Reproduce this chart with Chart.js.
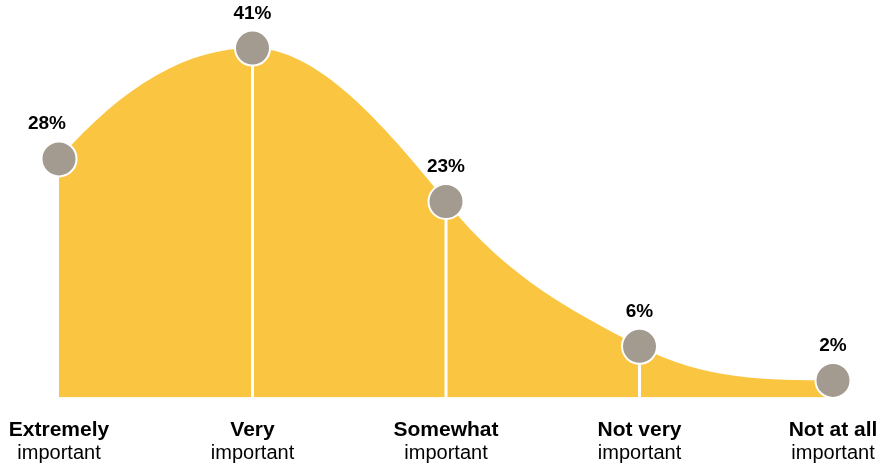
<!DOCTYPE html>
<html>
<head>
<meta charset="utf-8">
<script src="https://cdn.jsdelivr.net/npm/chart.js@4/dist/chart.umd.min.js"></script>
<style>
  html, body { margin: 0; padding: 0; background: #fff; }
  #wrap { width: 878px; height: 466px; }
</style>
</head>
<body>
<div id="wrap"><canvas id="c" width="878" height="466"></canvas></div>
<script>
// Importance ratings, share of respondents (%)
const categoriesTop = ['Extremely', 'Very', 'Somewhat', 'Not very', 'Not at all'];
const categoriesBottom = ['important', 'important', 'important', 'important', 'important'];
const shares = [28, 41, 23, 6, 2];
const valueLabels = ['28%', '41%', '23%', '6%', '2%'];

const FONT = '"Liberation Sans", Arial, Helvetica, sans-serif';
const TANGENT_SCALE = 1.6; // cardinal spline with negative tension (fuller bell shape)

// Smooth curve: cardinal-style tangents, parabolic end conditions,
// flattened at turning points and limited to stay monotone between points.
const bellCurve = {
  id: 'bellCurve',
  afterDatasetUpdate(chart, args) {
    const meta = args.meta;
    const line = meta.dataset;
    const pts = meta.data;
    const n = pts.length;
    if (!line || n < 3) return;
    line.updateControlPoints(chart.chartArea, 'x');

    const d = [];
    for (let k = 0; k < n - 1; k++) {
      d.push((pts[k + 1].y - pts[k].y) / (pts[k + 1].x - pts[k].x));
    }
    const m = new Array(n).fill(0);
    for (let k = 1; k < n - 1; k++) {
      m[k] = d[k - 1] * d[k] <= 0 ? 0 : TANGENT_SCALE * (d[k - 1] + d[k]) / 2;
    }
    m[0] = 2 * d[0] - m[1];
    if (m[0] * d[0] <= 0) m[0] = 0;
    m[n - 1] = 2 * d[n - 2] - m[n - 2];
    if (m[n - 1] * d[n - 2] <= 0) m[n - 1] = 0;
    for (let k = 0; k < n - 1; k++) {
      if (d[k] === 0) { m[k] = 0; m[k + 1] = 0; continue; }
      const a = m[k] / d[k];
      const b = m[k + 1] / d[k];
      const s = a * a + b * b;
      if (s > 9) {
        const t = 3 / Math.sqrt(s);
        m[k] = t * a * d[k];
        m[k + 1] = t * b * d[k];
      }
    }
    for (let k = 0; k < n; k++) {
      const p = pts[k];
      const hPrev = k > 0 ? (p.x - pts[k - 1].x) / 3 : 0;
      const hNext = k < n - 1 ? (pts[k + 1].x - p.x) / 3 : 0;
      p.cp1x = p.x - hPrev;
      p.cp1y = p.y - m[k] * hPrev;
      p.cp2x = p.x + hNext;
      p.cp2y = p.y + m[k] * hNext;
    }
  }
};

// White drop lines from each interior point down to the baseline (under the markers)
const dropLines = {
  id: 'dropLines',
  beforeDatasetDraw(chart, args) {
    const ctx = chart.ctx;
    const pts = args.meta.data;
    const base = chart.scales.y.getPixelForValue(0);
    ctx.save();
    ctx.strokeStyle = '#ffffff';
    ctx.lineWidth = 3;
    pts.forEach((pt, i) => {
      if (i === 0 || i === pts.length - 1) return;
      ctx.beginPath();
      ctx.moveTo(pt.x, pt.y);
      ctx.lineTo(pt.x, base);
      ctx.stroke();
    });
    ctx.restore();
  }
};

// Value labels above points and two-line category labels below the axis
const textLabels = {
  id: 'textLabels',
  afterDraw(chart) {
    const ctx = chart.ctx;
    const pts = chart.getDatasetMeta(0).data;
    const base = chart.scales.y.getPixelForValue(0);
    ctx.save();
    ctx.fillStyle = '#000000';
    ctx.textAlign = 'center';
    ctx.textBaseline = 'alphabetic';
    pts.forEach((pt, i) => {
      ctx.font = 'bold 19px ' + FONT;
      const dx = i === 0 ? -12 : 0;
      ctx.fillText(valueLabels[i], pt.x + dx, pt.y - 29.5);
      ctx.font = 'bold 21px ' + FONT;
      ctx.fillText(categoriesTop[i], pt.x, base + 38.5);
      ctx.font = '20px ' + FONT;
      ctx.fillText(categoriesBottom[i], pt.x, base + 61);
    });
    ctx.restore();
  }
};

new Chart(document.getElementById('c'), {
  type: 'line',
  data: {
    labels: categoriesTop,
    datasets: [{
      data: shares,
      fill: 'origin',
      backgroundColor: '#FAC540',
      borderColor: '#FAC540',
      borderWidth: 0,
      tension: 0.4,
      pointRadius: 17.5,
      pointHoverRadius: 17.5,
      pointBackgroundColor: '#A39B8F',
      pointBorderColor: '#ffffff',
      pointBorderWidth: 2,
      clip: false
    }]
  },
  options: {
    responsive: false,
    animation: false,
    events: [],
    layout: { autoPadding: false, padding: { left: 59, right: 45, top: 14, bottom: 68.5 } },
    plugins: { legend: { display: false }, tooltip: { enabled: false } },
    scales: {
      x: { display: false, offset: false },
      y: { display: false, min: 0, max: 45 }
    }
  },
  plugins: [bellCurve, dropLines, textLabels]
});
</script>
</body>
</html>
